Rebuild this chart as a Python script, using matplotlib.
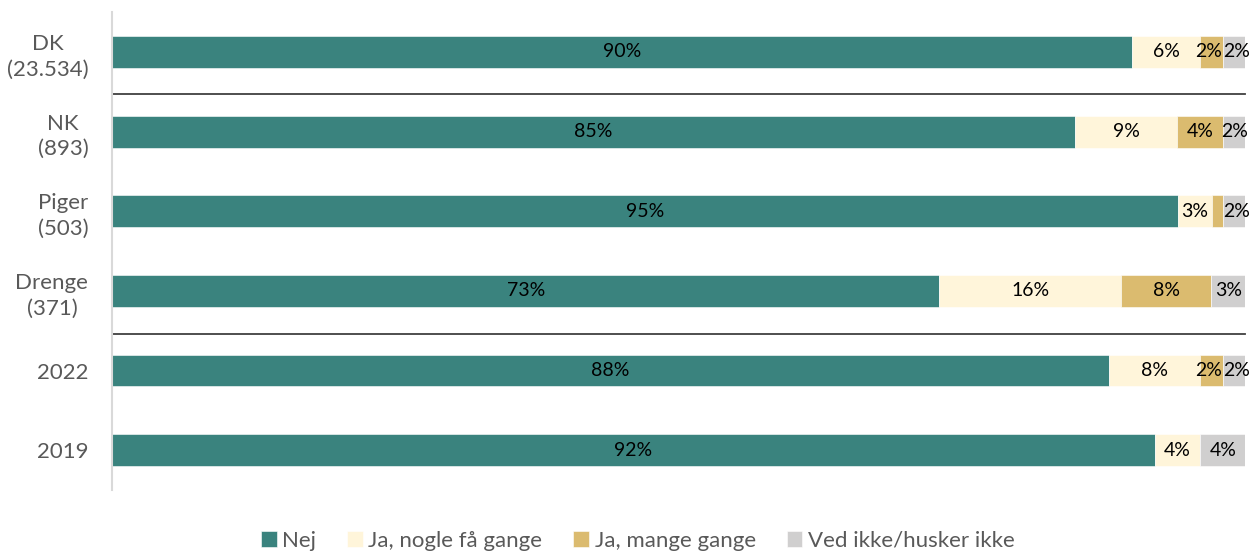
import matplotlib.pyplot as plt
import numpy as np

plt.rcParams['font.family'] = ['Lato', 'DejaVu Sans']

groups = ['DK\n(23.534)', 'NK\n(893)', 'Piger\n(503)', 'Drenge\n(371)', '2022', '2019']
series = ['Nej', 'Ja, nogle få gange', 'Ja, mange gange', 'Ved ikke/husker ikke']
nej = [90, 85, 95, 73, 88, 92]
ja_faa = [6, 9, 3, 16, 8, 4]
ja_mange = [2, 4, 1, 8, 2, 0]
ved_ikke = [2, 2, 2, 3, 2, 4]
colors = ['#3a837e', '#fff5da', '#dbbb6f', '#d0cfcf']

values = np.array([nej, ja_faa, ja_mange, ved_ikke], dtype=float)
shares = values / values.sum(axis=0) * 100  # 100% stacked

fig = plt.figure(figsize=(12.58, 5.53), dpi=100)
ax = fig.add_axes([0.089, 0.114, 0.901, 0.864])

y = np.arange(len(groups))
left = np.zeros(len(groups))
for i, name in enumerate(series):
    ax.barh(y, shares[i], left=left, height=0.4, color=colors[i],
            label=name, edgecolor='white', linewidth=0.4)
    for j in range(len(groups)):
        if values[i, j] < 2:
            continue
        # push apart the two labels when both end segments are narrow
        dx = 0
        if i >= 2 and values[2, j] <= 2 and values[3, j] <= 2:
            dx = -2 if i == 2 else 2
        ax.annotate(f'{values[i, j]:.0f}%', (left[j] + shares[i, j] / 2, y[j]),
                    xytext=(dx, 0), textcoords='offset points',
                    ha='center', va='center', fontsize=14, color='black')
    left += shares[i]

# separators between country, gender and year blocks
for sep in (0.53, 3.54):
    ax.plot([0, 100], [sep, sep], color='#404040', linewidth=1.3,
            clip_on=False)

ax.set_xlim(0, 100)
ax.set_ylim(5.5, -0.5)
ax.set_yticks(y)
ax.set_yticklabels(groups, fontsize=16, color='#595959', linespacing=1.35,
                   multialignment='center')
ax.tick_params(axis='y', length=0, pad=17)
ax.set_xticks([])
for side in ('top', 'right', 'bottom'):
    ax.spines[side].set_visible(False)
ax.spines['left'].set_color('#d9d9d9')
ax.spines['left'].set_linewidth(1.5)

fig.legend(loc='center', bbox_to_anchor=(0.507, 0.022), ncol=4, frameon=False,
           fontsize=16, labelcolor='#595959', handlelength=0.7,
           handleheight=0.7, handletextpad=0.25, columnspacing=1.4)

fig.savefig('out.png', dpi=100)
